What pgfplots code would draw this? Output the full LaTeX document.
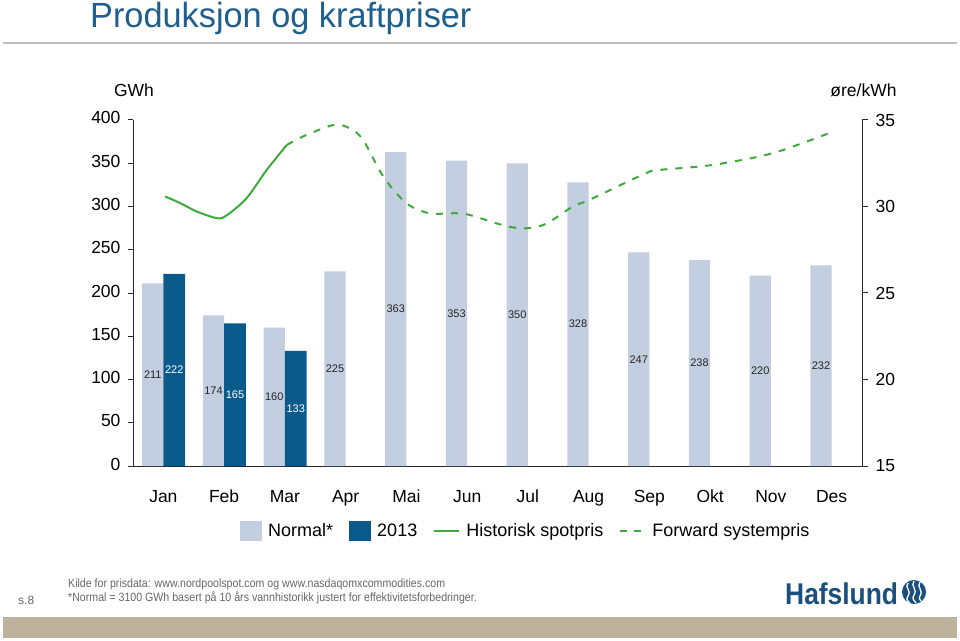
\documentclass[border=0pt]{standalone}
\usepackage{pgfplots}
\pgfplotsset{compat=1.18}
\usepackage{fontspec}
\setmainfont{Liberation Sans}
\definecolor{normalc}{HTML}{C3CEE0}
\definecolor{darkc}{HTML}{0A5A8C}
\definecolor{greenc}{HTML}{3CAA3C}
\definecolor{titlec}{HTML}{1E5F8E}
\definecolor{bandc}{HTML}{BFB29C}
\definecolor{logoc}{HTML}{1B4F80}
\pgfplotsset{lineleg/.style={legend image code/.code={\draw[##1] (0pt,0pt) -- (25pt,0pt);}}}
\begin{document}
\begin{tikzpicture}[x=1pt,y=1pt]
\path[use as bounding box] (0,0) rectangle (960,640);
% title
\node[anchor=base west, inner sep=0pt, text=titlec, font=\fontsize{35}{37}\selectfont, xscale=0.98] at (90,612) {Produksjon og kraftpriser};
\draw[line width=2pt, color=black!25] (3,597) -- (957,597);
% axis with bars
\begin{axis}[
  at={(133pt,174pt)}, anchor=south west,
  scale only axis, width=729pt, height=346pt,
  xmin=-0.5, xmax=11.5, ymin=0, ymax=400,
  axis x line*=bottom, axis y line*=left,
  xtick={0,...,11},
  xticklabels={Jan,Feb,Mar,Apr,Mai,Jun,Jul,Aug,Sep,Okt,Nov,Des},
  typeset ticklabels with strut,
  x tick style={draw=none},
  ytick={0,50,...,400},
  tick align=outside, major tick length=5pt,
  /pgf/number format/assume math mode=true,
  ticklabel style={font=\fontsize{17.5}{20}\selectfont},
  xticklabel style={yshift=-14pt},
  yticklabel style={xshift=-4pt},
  axis line style={line width=1pt, color=black!85},
  y tick style={line width=1pt, color=black!85},
  clip=false,
  legend columns=4,
  legend style={at={(0.1468,-0.188)}, anchor=west, draw=none, fill=none, inner sep=0pt,
     font=\fontsize{18}{20}\selectfont,
     /tikz/every even column/.append style={column sep=10pt},
     nodes={inner xsep=6pt}},
  visualization depends on={rawy \as \rawy},
  nodes near coords,
  every node near coord/.append style={font=\fontsize{11}{12}\selectfont, anchor=center, yshift=-0.4325pt*\rawy},
]
\addplot[ybar, bar width=0.35, bar shift=-0.175, fill=normalc, draw=none,
  every node near coord/.append style={text=black!85, xshift=-10.6pt},
  legend image code/.code={\fill[normalc] (0pt,-10pt) rectangle (22pt,10pt);}]
  coordinates {(0,211) (1,174) (2,160) (3,225) (4,363) (5,353) (6,350) (7,328) (8,247) (9,238) (10,220) (11,232)};
\addlegendentry{Normal*}
\addplot[ybar, bar width=0.36, bar shift=0.18, fill=darkc, draw=none,
  every node near coord/.append style={text=white, xshift=10.9pt},
  legend image code/.code={\fill[darkc] (0pt,-10pt) rectangle (22pt,10pt);}]
  coordinates {(0,222) (1,165) (2,133)};
\addlegendentry{2013}
\addlegendimage{line width=2pt, color=greenc, lineleg}
\addlegendentry{Historisk spotpris}
\addlegendimage{line width=2pt, color=greenc, dash pattern=on 7pt off 7pt, lineleg}
\addlegendentry{Forward systempris}
\end{axis}
% price axis
\begin{axis}[
  at={(133pt,174pt)}, anchor=south west,
  scale only axis, width=729pt, height=346pt,
  xmin=-0.5, xmax=11.5, ymin=15, ymax=35,
  axis y line*=right, hide x axis,
  ytick={15,20,...,35},
  tick align=outside, major tick length=6pt,
  /pgf/number format/assume math mode=true,
  ticklabel style={font=\fontsize{17.5}{20}\selectfont},
  yticklabel style={xshift=4pt},
  axis line style={line width=1pt, color=black!85},
  y tick style={line width=1pt, color=black!85},
  clip=false,
]
\addplot[line width=2pt, color=greenc, smooth, tension=0.5] coordinates {
 (0.03,30.58) (0.28,30.19) (0.55,29.71) (0.89,29.32) (1.05,29.51) (1.37,30.48) (1.70,32.11) (2.03,33.55)};
\addplot[line width=2pt, color=greenc, dash pattern=on 7pt off 8pt, smooth, tension=0.5] coordinates {
 (2.03,33.55) (2.30,34.05) (2.80,34.71) (3.07,34.52) (3.29,33.84) (3.62,31.73) (4.00,30.19) (4.38,29.61) (4.82,29.61) (5.04,29.51) (5.64,28.87) (5.97,28.74) (6.30,29.00) (6.74,30.0) (7.01,30.38) (7.94,31.92) (8.16,32.11) (9.04,32.40) (10.02,33.07) (10.95,34.23)};
\end{axis}
% axis titles
\node[font=\fontsize{17.5}{20}\selectfont] at (134,550) {GWh};
\node[font=\fontsize{17.5}{20}\selectfont] at (863.5,550) {øre/kWh};
% footer
\node[anchor=base west, inner sep=0pt, text=black!60, font=\fontsize{12}{13}\selectfont, xscale=0.885] at (68,53) {Kilde for prisdata: www.nordpoolspot.com og www.nasdaqomxcommodities.com};
\node[anchor=base west, inner sep=0pt, text=black!60, font=\fontsize{12}{13}\selectfont, xscale=0.885] at (68,39) {*Normal = 3100 GWh basert på 10 års vannhistorikk justert for effektivitetsforbedringer.};
\node[anchor=base west, inner sep=0pt, text=black!60, font=\fontsize{12}{13}\selectfont] at (18,36) {s.8};
\fill[bandc] (3,2) rectangle (957,23);
% logo
\node[anchor=base west, inner sep=0pt, text=logoc, font=\bfseries\fontsize{30}{32}\selectfont, xscale=0.88] at (785,36) {Hafslund};
\fill[logoc] (914,48) circle (12);
\draw[white, line width=1.3pt] (908,57) .. controls (904,52) and (912,50) .. (908,44) .. controls (905,40) and (909,38) .. (910,37);
\draw[white, line width=1.3pt] (914,59) .. controls (910,54) and (918,51) .. (914,45) .. controls (911,41) and (915,39) .. (916,37);
\draw[white, line width=1.3pt] (920,58) .. controls (916,53) and (924,50) .. (920,44) .. controls (918,41) and (921,40) .. (921,39);
\end{tikzpicture}
\end{document}
